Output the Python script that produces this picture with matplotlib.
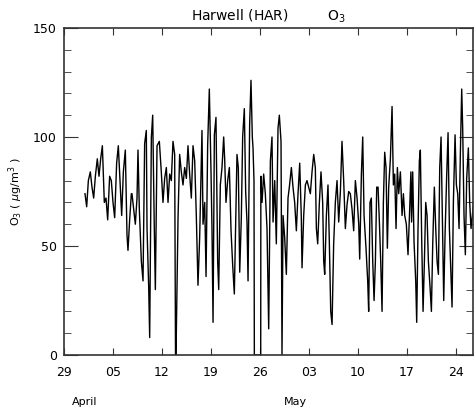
import matplotlib
matplotlib.use("Agg")
import matplotlib.pyplot as plt
from matplotlib.ticker import MultipleLocator

# time in days since 29 March, O3 in ug/m3
days = [3.00, 3.24, 3.48, 3.76, 4.00, 4.24, 4.48, 4.76, 5.00, 5.24, 5.48, 5.76,
        6.00, 6.24, 6.52, 6.76, 7.00, 7.24, 7.52, 7.76, 8.00, 8.24, 8.48, 8.76,
        9.00, 9.14, 9.38, 9.62, 9.71, 9.95, 10.19, 10.43, 10.57, 10.76, 11.05,
        11.29, 11.52, 11.76, 11.86, 12.10, 12.24, 12.48, 12.67, 12.90, 13.05,
        13.29, 13.62, 13.90, 14.14, 14.38, 14.62, 14.86, 15.10, 15.33, 15.57,
        15.81, 15.93, 16.00, 16.29, 16.52, 16.76, 17.00, 17.24, 17.48, 17.71,
        17.95, 18.19, 18.43, 18.67, 18.90, 19.14, 19.38, 19.62, 19.71, 19.86,
        20.10, 20.29, 20.52, 20.76, 21.00, 21.14, 21.29, 21.48, 21.71, 21.95,
        22.10, 22.33, 22.57, 22.81, 22.95, 23.14, 23.38, 23.62, 23.86, 24.10,
        24.33, 24.48, 24.71, 24.90, 25.10, 25.33, 25.52, 25.76, 25.95, 26.14,
        26.29, 26.52, 26.71, 26.90, 27.00, 27.14, 27.19, 28.10, 28.12, 28.29,
        28.52, 28.76, 29.00, 29.24, 29.48, 29.71, 29.86, 30.10, 30.33, 30.57,
        30.76, 31.00, 31.14, 31.29, 31.52, 31.76, 32.00, 32.19, 32.48, 32.71,
        32.95, 33.19, 33.43, 33.67, 33.90, 34.00, 34.24, 34.48, 34.71, 34.95,
        35.19, 35.43, 35.67, 35.90, 36.05, 36.24, 36.48, 36.71, 36.95, 37.10,
        37.24, 37.48, 37.71, 37.90, 38.10, 38.29, 38.52, 38.76, 39.00, 39.24,
        39.48, 39.71, 39.95, 40.19, 40.43, 40.67, 40.90, 41.14, 41.38, 41.62,
        41.86, 42.10, 42.24, 42.48, 42.67, 42.86, 43.14, 43.38, 43.52, 43.71,
        43.90, 44.10, 44.29, 44.48, 44.67, 44.86, 45.05, 45.24, 45.43, 45.62,
        45.81, 46.00, 46.19, 46.38, 46.62, 46.86, 47.05, 47.24, 47.43, 47.62,
        47.81, 48.05, 48.29, 48.48, 48.67, 48.90, 49.14, 49.38, 49.55, 49.65,
        49.81, 50.00, 50.24, 50.38, 50.57, 50.76, 50.90, 51.10, 51.29, 51.48,
        51.67, 51.86, 52.05, 52.29, 52.48, 52.67, 52.90, 53.10, 53.29, 53.48,
        53.67, 53.86, 54.05, 54.24, 54.43, 54.67, 54.86, 55.05, 55.24, 55.43,
        55.62, 55.86, 56.05, 56.24, 56.43, 56.62, 56.81, 56.95, 57.14, 57.33,
        57.52, 57.76, 57.95, 58.14, 58.33, 58.48]
o3 = [74, 68, 80, 84, 77, 72, 82, 90, 82, 90, 96, 70,
      72, 62, 82, 80, 70, 63, 88, 96, 80, 64, 84, 94,
      55, 48, 62, 74, 74, 67, 60, 72, 94, 67, 43,
      34, 97, 103, 58, 31, 8, 100, 110, 58, 30,
      96, 98, 84, 70, 81, 86, 70, 83, 80, 98,
      92, 0, 0, 63, 92, 84, 78, 86, 81, 96,
      83, 72, 96, 89, 64, 32, 54, 89, 103, 60,
      70, 36, 96, 122, 84, 58, 15, 101, 109, 43,
      30, 78, 86, 100, 90, 70, 80, 86, 57, 41,
      28, 54, 92, 86, 38, 63, 100, 113, 75, 61,
      34, 106, 126, 100, 95, 80, 0, 0, 82, 70,
      83, 74, 58, 12, 89, 100, 61, 80, 51, 104,
      110, 98, 0, 64, 54, 37, 72, 77, 86, 77,
      70, 57, 74, 88, 63, 40, 64, 78, 80, 77,
      74, 84, 92, 86, 58, 51, 70, 84, 70, 43,
      37, 64, 78, 52, 20, 14, 51, 70, 80, 61,
      75, 98, 80, 58, 69, 75, 74, 67, 57, 80,
      72, 60, 44, 83, 100, 64, 49, 34, 20, 70,
      72, 43, 25, 43, 77, 77, 61, 43, 20, 70,
      93, 86, 49, 77, 90, 114, 78, 83, 58, 86,
      74, 84, 64, 74, 64, 60, 46, 67, 84, 61,
      84, 52, 34, 15, 58, 89, 94, 52, 20, 43,
      70, 64, 43, 31, 20, 51, 77, 58, 43, 37,
      86, 100, 64, 25, 55, 83, 102, 58, 40, 22,
      70, 101, 78, 74, 58, 93, 122, 104, 64, 46,
      81, 95, 70, 58, 64, 70]

tick_days = [0, 7, 14, 21, 28, 35, 42, 49, 56]
tick_labels = ['29', '05', '12', '19', '26', '03', '10', '17', '24']
months = ['April', 'May']
month_x = [3.0, 33.1]

fig = plt.figure(figsize=(4.74, 4.13), dpi=100)
ax = fig.add_axes([0.135, 0.1404, 0.863, 0.7918])

ax.plot(days, o3, color='black', linewidth=1.0)

ax.set_xlim(0, 58.43)
ax.set_ylim(0, 150)
ax.set_xticks(tick_days)
ax.set_xticklabels(tick_labels)
ax.yaxis.set_major_locator(MultipleLocator(50))
ax.yaxis.set_minor_locator(MultipleLocator(10))

ax.tick_params(axis='x', which='major', direction='in', length=5, top=True,
               labelsize=9, pad=8, color='#333333')
ax.tick_params(axis='y', which='major', direction='in', length=10, right=True,
               labelsize=9, pad=5, color='#333333')
ax.tick_params(axis='y', which='minor', direction='in', length=5, right=True,
               color='#333333')
for s in ax.spines.values():
    s.set_color('#333333')
    s.set_linewidth(1.2)

for m, mx in zip(months, month_x):
    ax.text(mx, -0.143, m, transform=ax.get_xaxis_transform(), fontsize=8,
            ha='center', va='center')

ax.set_title('Harwell (HAR)         O$_3$', fontsize=10, pad=5)
ax.set_ylabel('O$_3$ ( $\\mu$g/m$^3$ )', fontsize=8, labelpad=6)

fig.savefig('out.png', dpi=100)
